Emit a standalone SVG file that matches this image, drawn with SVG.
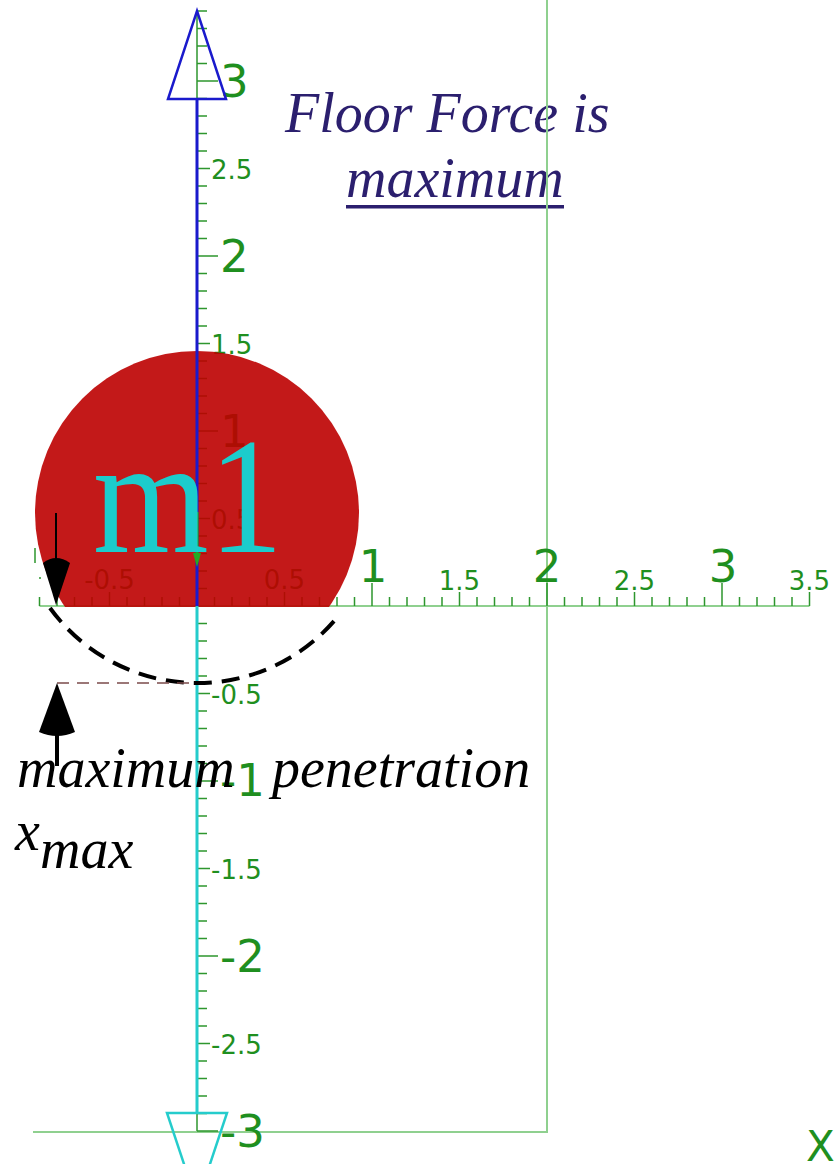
<svg xmlns="http://www.w3.org/2000/svg" width="835" height="1164" viewBox="0 0 835 1164">
<style>
.grid{stroke:#8fd08f;stroke-width:2;fill:none}
.tick{stroke:#2e962e;stroke-width:1.5;fill:none}
.lbl{font-family:"DejaVu Sans",Verdana,sans-serif;fill:#1f8f1f}
.big{font-size:45px}
.small{font-size:26px}
.it{font-family:"Liberation Serif","Times New Roman",serif;font-style:italic;font-size:56px}
</style>
<rect width="835" height="1164" fill="#fff"/>
<g id="title">
<text class="it" fill="#2b1f6e" x="285" y="132">Floor Force is</text>
<text class="it" fill="#2b1f6e" x="346" y="197">maximum</text>
<rect x="346" y="205" width="218" height="3.5" fill="#2b1f6e"/>
</g>
<g id="grid">
<path class="grid" d="M547 0V1132H33"/>
<path class="grid" d="M39.5 606H809.5"/>
<path d="M197 11V1131" stroke="#2e962e" stroke-width="1.5"/>
</g>
<g id="ticks">
<path class="tick" d="M197 11h10M197 28.5h10M197 46h10M197 63.5h10M197 81h21M197 98.5h10M197 116h10M197 133.5h10M197 151h10M197 168.5h13M197 186h10M197 203.5h10M197 221h10M197 238.5h10M197 256h21M197 273.5h10M197 291h10M197 308.5h10M197 326h10M197 343.5h13M197 361h10M197 378.5h10M197 396h10M197 413.5h10M197 431h21M197 448.5h10M197 466h10M197 483.5h10M197 501h10M197 518.5h13M197 536h10M197 553.5h10M197 571h10M197 588.5h10M197 623.5h10M197 641h10M197 658.5h10M197 676h10M197 693.5h13M197 711h10M197 728.5h10M197 746h10M197 763.5h10M197 781h21M197 798.5h10M197 816h10M197 833.5h10M197 851h10M197 868.5h13M197 886h10M197 903.5h10M197 921h10M197 938.5h10M197 956h21M197 973.5h10M197 991h10M197 1008.5h10M197 1026h10M197 1043.5h13M197 1061h10M197 1078.5h10M197 1096h10M197 1113.5h10M197 1131h21"/>
<path class="tick" d="M39.5 606v-9M57 606v-9M74.5 606v-9M92 606v-9M109.5 606v-14M127 606v-9M144.5 606v-9M162 606v-9M179.5 606v-9M214.5 606v-9M232 606v-9M249.5 606v-9M267 606v-9M284.5 606v-14M302 606v-9M319.5 606v-9M337 606v-9M354.5 606v-9M372 606v-23M389.5 606v-9M407 606v-9M424.5 606v-9M442 606v-9M459.5 606v-14M477 606v-9M494.5 606v-9M512 606v-9M529.5 606v-9M547 606v-23M564.5 606v-9M582 606v-9M599.5 606v-9M617 606v-9M634.5 606v-14M652 606v-9M669.5 606v-9M687 606v-9M704.5 606v-9M722 606v-23M739.5 606v-9M757 606v-9M774.5 606v-9M792 606v-9M809.5 606v-14"/>
<path class="tick" d="M35 548V563M39 578h2"/>
</g>
<g id="axis-labels">
<text class="lbl big" x="220" y="97">3</text>
<text class="lbl small" x="211" y="179">2.5</text>
<text class="lbl big" x="220" y="272">2</text>
<text class="lbl small" x="211" y="354">1.5</text>
<text class="lbl big" x="220" y="447">1</text>
<text class="lbl small" x="211" y="529">0.5</text>
<text class="lbl small" x="211" y="704">-0.5</text>
<text class="lbl big" x="220" y="796">-1</text>
<text class="lbl small" x="211" y="879">-1.5</text>
<text class="lbl big" x="220" y="972">-2</text>
<text class="lbl small" x="211" y="1054">-2.5</text>
<text class="lbl big" x="220" y="1147">-3</text>
<text class="lbl small" text-anchor="middle" x="109.5" y="589">-0.5</text>
<text class="lbl small" text-anchor="middle" x="284.5" y="589">0.5</text>
<text class="lbl big" text-anchor="middle" x="373" y="582">1</text>
<text class="lbl small" text-anchor="middle" x="459.5" y="590">1.5</text>
<text class="lbl big" text-anchor="middle" x="547" y="582">2</text>
<text class="lbl small" text-anchor="middle" x="634.5" y="590">2.5</text>
<text class="lbl big" text-anchor="middle" x="723" y="582">3</text>
<text class="lbl small" text-anchor="middle" x="809.5" y="590">3.5</text>
<text class="lbl" font-size="42" x="806" y="1161">X</text>
</g>
<g id="mass">
<defs><clipPath id="cut"><rect x="0" y="0" width="835" height="607"/></clipPath></defs>
<circle cx="197" cy="513" r="162" fill="#bd0000" opacity="0.9" clip-path="url(#cut)"/>
</g>
<g id="vectors">
<path d="M197 99V606" stroke="#1a1acc" stroke-width="3"/>
<polygon points="197,11 226,99 168,99" fill="none" stroke="#1a1acc" stroke-width="2.5"/>
<path d="M197 606V1113" stroke="#25cccc" stroke-width="3"/>
<polygon points="167,1113 227,1113 197,1203" fill="none" stroke="#25cccc" stroke-width="2.5"/>
<path d="M197 512V556" stroke="#22aa22" stroke-width="3"/>
<polygon points="193,553 201,553 197,567" fill="#22aa22"/>
</g>
<g id="m1">
<text x="93" y="552" font-family="'Liberation Serif','Times New Roman',serif" font-size="166" fill="#1ccccc" textLength="190" lengthAdjust="spacingAndGlyphs">m1</text>
</g>
<g id="connectors">
<path d="M50 608A182 182 0 0 0 340 614" fill="none" stroke="#000" stroke-width="4" stroke-dasharray="18 10"/>
<path d="M57 683H197" stroke="#7b4b4b" stroke-width="1.5" stroke-dasharray="12 8"/>
<path d="M56 513V560" stroke="#000" stroke-width="2"/>
<path d="M43 563Q56 553 70 563L56 605Z" fill="#000"/>
<path d="M57 734V766" stroke="#000" stroke-width="4"/>
<path d="M57 683L75 732Q57 740 39 732Z" fill="#000"/>
</g>
<g id="annotation">
<text class="it" fill="#000" x="17" y="787">maximum<tspan x="272">penetration</tspan></text>
<text class="it" fill="#000" x="15" y="850">x<tspan x="40" y="868">max</tspan></text>
</g>
</svg>
